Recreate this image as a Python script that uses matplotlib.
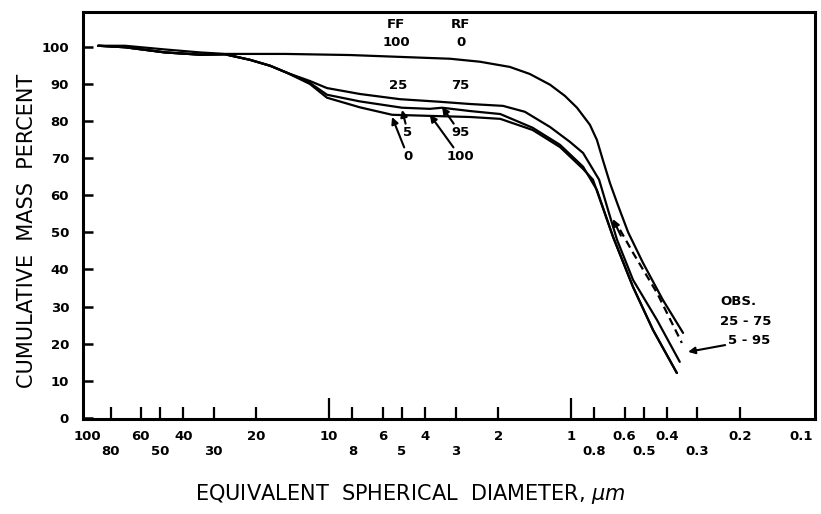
import matplotlib
matplotlib.use("Agg")
import matplotlib.pyplot as plt

# Cumulative mass percent vs equivalent spherical diameter (um)
# Model curves for FF/RF mixtures, plus the observed curve (dashed)
diam_ff100 = [90, 69.7, 47.6, 34.1, 26.9, 15.2, 8.18, 5.09, 3.16, 2.38, 1.79, 1.48,
              1.22, 1.06, 0.944, 0.835, 0.781, 0.738, 0.690, 0.640, 0.581, 0.504,
              0.417, 0.344]
pct_ff100 = [100.3, 100.3, 99.3, 98.5, 98.1, 98.1, 97.8, 97.3, 96.8, 96.0, 94.6, 92.7,
             89.8, 86.8, 83.6, 79.0, 74.9, 69.5, 63.3, 57.4, 50.1, 41.8, 31.8, 22.9]

diam_ff25 = [90, 69.7, 47.6, 34.1, 26.9, 21.2, 17.5, 14.9, 12.0, 10.2, 7.45, 5.09,
             3.48, 2.61, 1.91, 1.55, 1.22, 1.01, 0.891, 0.765, 0.703, 0.645, 0.554,
             0.441, 0.355]
pct_ff25 = [100.3, 99.9, 98.5, 97.9, 98.0, 96.5, 94.9, 93.0, 90.8, 88.9, 87.3, 85.9,
            85.2, 84.6, 84.1, 82.5, 78.4, 74.4, 71.4, 64.2, 56.1, 48.0, 37.2, 26.4,
            15.1]

diam_ff5 = [90, 69.7, 47.6, 34.1, 26.9, 21.2, 17.5, 14.9, 12.0, 10.2, 7.45, 4.99,
            3.83, 3.41, 2.61, 1.96, 1.44, 1.11, 0.891, 0.782, 0.670, 0.554, 0.458,
            0.365]
pct_ff5 = [100.3, 99.9, 98.5, 97.9, 98.0, 96.5, 94.9, 93.0, 90.3, 87.1, 85.3, 83.6,
           83.3, 83.6, 82.7, 81.9, 78.2, 73.6, 67.7, 61.5, 48.8, 35.3, 23.7, 12.1]

diam_ff0 = [90, 69.7, 47.6, 34.1, 26.9, 21.2, 17.5, 14.9, 12.0, 10.2, 7.45, 5.49,
            3.83, 2.61, 1.96, 1.44, 1.11, 0.891, 0.811, 0.670, 0.554, 0.458, 0.365]
pct_ff0 = [100.3, 99.9, 98.5, 97.9, 98.0, 96.5, 94.9, 93.0, 90.0, 86.3, 83.7, 81.7,
           81.4, 81.1, 80.6, 77.6, 73.0, 67.1, 64.2, 48.8, 35.3, 23.7, 12.1]

diam_obs = [0.627, 0.554, 0.441, 0.348]
pct_obs = [50.7, 44.5, 33.7, 20.2]

tick_vals = [100, 80, 60, 50, 40, 30, 20, 10, 8, 6, 5, 4, 3, 2, 1,
             0.8, 0.6, 0.5, 0.4, 0.3, 0.2, 0.1]
tick_labels = ["100", "80", "60", "50", "40", "30", "20", "10", "8", "6",
               "5", "4", "3", "2", "1", "0.8", "0.6", "0.5", "0.4",
               "0.3", "0.2", "0.1"]
lower_row = [80, 50, 30, 8, 5, 3, 0.8, 0.5, 0.3]
y_vals = list(range(0, 101, 10))

fig = plt.figure(figsize=(8.21, 5.14), dpi=100)
ax = fig.add_axes([83 / 821, 1 - 419 / 514, (815 - 83) / 821, (419 - 12) / 514])

lw = 1.6
for d, p in [(diam_ff100, pct_ff100), (diam_ff25, pct_ff25),
             (diam_ff5, pct_ff5), (diam_ff0, pct_ff0)]:
    ax.plot(d, p, color="black", lw=lw, solid_capstyle="round", solid_joinstyle="round")
ax.plot(diam_obs, pct_obs, color="black", lw=lw, linestyle=(0, (3.5, 2.2)))

ax.set_xscale("log")
ax.set_xlim(104, 0.098)
ax.set_ylim(-0.3, 109.4)

ax.set_xticks(tick_vals, labels=tick_labels, fontweight="bold", fontsize=9.5)
ax.minorticks_off()
ax.set_yticks(y_vals, labels=[str(v) for v in y_vals], fontweight="bold", fontsize=9.5)
ax.tick_params(axis="x", direction="in", width=1.6, pad=8)
ax.tick_params(axis="y", direction="in", length=7, width=1.8, pad=10)
for t, val in zip(ax.xaxis.get_major_ticks(), tick_vals):
    # second row of labels sits lower (set before sizing, set_pad resets the tick)
    if val in lower_row:
        t.set_pad(19)
    if val in (100, 0.1):
        t.tick1line.set_markersize(0)
    elif val in (10, 1):
        t.tick1line.set_markersize(15)
    else:
        t.tick1line.set_markersize(9)
ax.get_xticklabels()[-1].set_ha("right")

for s in ax.spines.values():
    s.set_linewidth(2.2)

# curve labels
bold = dict(fontweight="bold", fontsize=9.5, ha="center", va="center")
ax.text(5.29, 105.9, "FF", **bold)
ax.text(5.29, 101.1, "100", **bold)
ax.text(2.85, 105.9, "RF", **bold)
ax.text(2.85, 101.1, "0", **bold)
ax.text(5.19, 89.5, "25", **bold)
ax.text(2.87, 89.5, "75", **bold)

arrow = dict(arrowstyle="-|>", color="black", lw=1.5, mutation_scale=10,
             shrinkA=0, shrinkB=0)
ax.annotate("5", xy=(4.99, 83.0), xytext=(4.72, 76.8), arrowprops=arrow, **bold)
ax.annotate("0", xy=(5.49, 81.1), xytext=(4.72, 70.4), arrowprops=arrow, **bold)
ax.annotate("95", xy=(3.41, 83.8), xytext=(2.87, 76.8), arrowprops=arrow, **bold)
ax.annotate("100", xy=(3.83, 81.7), xytext=(2.87, 70.4), arrowprops=arrow, **bold)

# observed curve marker and label
ax.annotate("", xy=(0.671, 53.6), xytext=(0.622, 49.1), arrowprops=arrow)
ax.text(0.242, 31.3, "OBS.", fontweight="bold", fontsize=9.5, ha="left", va="center")
ax.text(0.242, 25.9, "25 - 75", fontweight="bold", fontsize=9.5, ha="left", va="center")
ax.annotate("5 - 95", xy=(0.328, 17.8), xytext=(0.2245, 20.8), arrowprops=arrow,
            fontweight="bold", fontsize=9.5, ha="left", va="center")

fig.text(27 / 821, 1 - 231 / 514, "CUMULATIVE  MASS  PERCENT", rotation=90,
         fontsize=15, ha="center", va="center")
fig.text(410 / 821, 1 - 494 / 514, r"EQUIVALENT  SPHERICAL  DIAMETER, $\mathit{\mu m}$",
         fontsize=15, ha="center", va="center")

fig.savefig("out.png", dpi=100)
